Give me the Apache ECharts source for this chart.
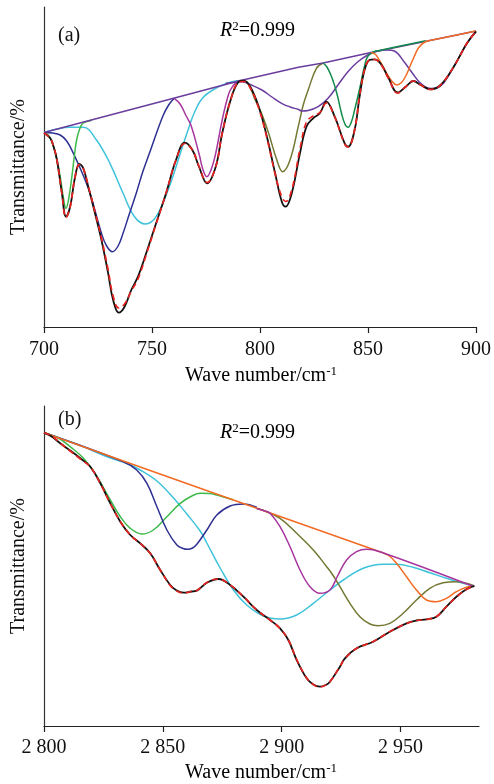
<!DOCTYPE html>
<html>
<head>
<meta charset="utf-8">
<script src="https://cdn.jsdelivr.net/npm/echarts@6/dist/echarts.min.js"></script>
<style>html,body{margin:0;padding:0;background:#fff;}#c{width:494px;height:784px;}</style>
</head>
<body>
<div id="c"></div>
<script>
// ---------- Panel (a): 700–900 cm-1 ----------
const tickValuesA = [700, 750, 800, 850, 900];
const tickLabelsA = ['700', '750', '800', '850', '900'];
const baselineA = [[700,194.5],[760,228.7],[791,246.5],[817.8,259.7],[829.2,264],[851.4,274.5],[882,288],[900,296]];
const greenA = [[700,194.5],[702.5,190.5],[704.4,180.3],[706,167],[707.5,150.3],[709,129],[710.2,118.7],[711.4,128],[712.9,150.3],[714,170],[715.1,187],[716.5,198],[718.2,204],[722,206.5]];
const blueA = [[700,194.5],[704,194],[707.5,192],[710.5,186],[713.6,173.7],[717.5,155],[721.3,133.7],[726.6,93.7],[729,81],[731.7,75.3],[734.3,81],[736.6,93.7],[739.5,113],[742.7,133.7],[745.7,155],[748.8,173.7],[754.9,210.3],[757.7,222],[760.3,228.7]];
const cyanA = [[700,194.5],[706,198],[712,199.7],[718.2,199.7],[724.3,187],[730.5,163.7],[736.6,133.7],[741.9,110.3],[747,103],[751.9,110.3],[758,140.3],[764.1,180.3],[767,199],[769.5,213.7],[773.3,228.7],[779.5,238.7],[787,245.3],[791,246.5]];
const magentaA = [[760.3,228.7],[763,223],[765.7,211.5],[768,202],[771.8,173],[773.5,158],[775.4,150.3],[777.3,157],[779.5,173.7],[782.5,207],[785.6,233.7],[787.5,241],[789.4,245.3],[791,246.5]];
const oliveA = [[791,246.5],[794.5,243],[797.8,227],[801,212],[804,193.7],[807.8,167],[810.5,155.3],[813.9,167],[817.7,200.3],[820,222],[822.3,237],[826.1,258.7],[829.2,264]];
const purpleA = [[784,243.5],[791.7,245.3],[796,242],[800.9,237],[805.5,230],[810,223.7],[814,220],[817.8,217.5],[819.5,216],[822.3,216.5],[826.9,220.3],[831.5,228.7],[836.1,242],[840.7,255.3],[845.3,265.3],[849.9,272],[854.5,276],[859.1,277],[862.2,276],[866.7,265.3],[870.6,253.7],[874.4,243.7],[879,238.5],[882,239.3],[885,244],[889.7,260.3],[895.8,283.7],[900,296]];
const darkGreenA = [[829.2,264],[831,260],[833,251],[834.6,241],[836,230],[837.7,214],[839.3,203],[840.8,199.7],[842.3,205],[843.8,217],[846.1,238],[848.4,261],[850,271],[853,275.5],[855.3,276.5],[866,281.5],[876.7,286.3]];
const orangeA = [[851.4,274.5],[853.5,272.5],[855.3,266.5],[857.3,259],[859.1,252],[861,246],[863.3,242],[865.5,244.5],[867.5,251],[869.5,261],[871.5,271],[873.5,279.5],[876,284.5],[879,286.7],[882,288],[900,296]];
const measuredA = [[700,194],[702.9,188.7],[704.5,180],[706,167],[708.3,133.7],[710.2,110.3],[712.1,120.3],[714.4,150.3],[716.4,163],[718.2,158.7],[720.5,140.3],[723.6,113.7],[726.6,87],[729.7,53.7],[732,27],[734.6,14.3],[737.3,20.3],[740.4,37],[743.5,50.3],[747.3,73.7],[751.9,103.7],[756.5,133.7],[761.1,167],[765.2,184.3],[768.7,177],[771.8,160],[775.5,143.7],[779.5,160.3],[782.5,193.7],[786.4,227],[790.2,245.3],[792.5,246.3],[795.5,240.3],[799.4,220.3],[803.2,190.3],[807,153.7],[810.1,125.3],[811.9,120.3],[814.7,133.7],[818.5,173.7],[821.5,200.3],[824.6,208.7],[827.7,213.7],[830.7,225.3],[834.6,210.3],[839.2,183.7],[840.8,180.3],[843.8,197],[846.1,230.3],[848.4,257],[850.7,267],[853,267.7],[856,263],[859.5,249],[863.7,234.5],[867.5,240.3],[871,246],[874.4,242],[879,237.7],[883.6,242],[889.7,260.3],[895.8,283.7],[900,295.3]];
const fitA = [[700,194],[702.9,188.7],[704.5,180],[706,167],[708.3,133],[710.2,109.5],[712.1,120],[714.4,150.3],[716.4,162.5],[718.2,158.5],[720.5,141],[723.6,115],[726.6,89],[729.7,57],[732,31],[734.6,19],[737.3,23],[740.4,36],[743.5,48],[747.3,72],[751.9,103],[756.5,133.7],[761.1,167],[765.2,183.5],[768.7,177],[771.8,160.5],[775.5,144.5],[779.5,160.3],[782.5,193.7],[786.4,227],[790.2,245],[792.5,245.5],[795.5,239],[799.4,219],[803.2,189],[807,153],[810.1,130],[811.9,125.5],[814.7,137],[818.5,178],[821.5,205],[824.6,211],[827.7,214.5],[830.7,224],[834.6,210],[839.2,183],[840.8,180],[843.8,197.5],[846.1,231],[848.4,257.5],[850.7,267],[853,267.5],[856,262.5],[859.5,248.5],[863.7,234],[867.5,240.5],[871,246],[874.4,242],[879,237.5],[883.6,242],[889.7,260.3],[895.8,283.7],[900,295.5]];

// ---------- Panel (b): 2800–2983 cm-1 ----------
const tickValuesB = [2800, 2850, 2900, 2950];
const tickLabelsB = ['2 800', '2 850', '2 900', '2 950'];
const orangeB = [[2800,293.3],[2865.7,237.7],[2941.3,174.3],[2945,170.5],[2948.3,162.7],[2952.5,149.3],[2956.7,136],[2960.9,126],[2965.1,124.3],[2969.3,127.7],[2973.5,134.3],[2977.7,138.7],[2981,140]];
const magentaB = [[2889.5,217.5],[2893,215],[2895.1,212.7],[2899.3,199.3],[2903.5,179.3],[2907.7,156],[2911.9,139.3],[2916.1,132.7],[2920.3,136],[2923.5,150],[2927.3,166],[2931.5,174.3],[2935.7,176.7],[2941.3,174.3],[2981,139.3]];
const oliveB = [[2889.5,217.5],[2892.3,215.5],[2899.3,207.7],[2906.3,192.7],[2913.3,176],[2918.9,159.3],[2921.5,151],[2924.5,139.3],[2928.7,122.7],[2932.9,109.3],[2937.1,102],[2940.6,100.3],[2945.5,102.7],[2951.1,112.7],[2956.7,126],[2962.3,137.7],[2967.9,143.3],[2973.5,144.3],[2977.7,142.7],[2981,140]];
const cyanB = [[2800,293.3],[2815.3,280.5],[2826.5,269.3],[2834.9,262.5],[2840.5,256],[2847.5,245],[2854.5,228],[2860.1,212],[2865.7,195],[2868.5,183],[2874.1,158],[2879.7,136],[2885.3,121],[2892.3,110],[2899.3,107],[2906.3,111],[2913.3,122.7],[2920.3,136],[2925.9,146],[2934.3,157.7],[2942.7,161.7],[2948.3,161.7],[2955.3,158.7],[2962.3,153.3],[2969.3,147.7],[2976.3,142.7],[2981,140.3]];
const blueB = [[2800,293.3],[2833.4,264.3],[2839,256],[2843.3,242.7],[2847.5,219.3],[2851.7,196],[2855.9,181],[2858.5,177.5],[2860.5,176.7],[2862.5,178],[2864.3,181.7],[2868.5,196],[2872.7,211],[2878.3,220],[2883.9,222],[2889.5,218.7]];
const greenB = [[2800,293.3],[2806,288],[2811,279.3],[2816.6,267.7],[2822.3,249.3],[2827.9,226],[2832.1,209.3],[2836.3,197.7],[2841.2,192],[2846,196],[2851.7,209.3],[2857.3,222.7],[2862.2,230],[2865.7,232.7],[2869.5,232.5],[2872.7,231],[2879.7,226]];
const measuredB = [[2800,293.3],[2803.5,289],[2806.8,282.7],[2811,275.5],[2815.3,267.7],[2819.5,259.3],[2823.7,242.7],[2827.9,222.7],[2832.1,204.3],[2836.3,191],[2840.5,182.7],[2844.7,172.7],[2848.9,156],[2853.1,141],[2855.5,136],[2858.7,133.3],[2862,134.5],[2864.3,135.3],[2868.5,143.3],[2873.4,147],[2878.3,141],[2883.9,129.3],[2889.5,116],[2895.1,106],[2899.3,97.7],[2902.8,86],[2906.3,66],[2910.5,47.7],[2913.3,41.5],[2916.1,39.3],[2918.5,41],[2920.3,44.3],[2924.5,59.3],[2926.6,67.7],[2931.5,77.7],[2938.5,84.3],[2945.5,94.3],[2952.5,102.7],[2956.7,105.5],[2960.9,106.7],[2965.1,109.3],[2969.3,119.3],[2973.5,129.3],[2977.7,136.7],[2981,140]];
const fitB = [[2800,293.3],[2803.5,289.5],[2806.8,283],[2811,275],[2815.3,267],[2819.5,259],[2823.7,242.5],[2827.9,222.5],[2832.1,204.5],[2836.3,191],[2840.5,182.5],[2844.7,172.5],[2848.9,156],[2853.1,140.5],[2855.5,135.5],[2858.7,133],[2862,134.5],[2864.3,135.5],[2868.5,143.5],[2873.4,147],[2878.3,141],[2883.9,129.5],[2889.5,116],[2895.1,106],[2899.3,97.5],[2902.8,86],[2906.3,66.5],[2910.5,48],[2913.3,41.5],[2916.1,39],[2918.5,41],[2920.3,44.5],[2924.5,59.5],[2926.6,67.5],[2931.5,77.5],[2938.5,84.5],[2945.5,94.5],[2952.5,102.5],[2956.7,105.5],[2960.9,106.5],[2965.1,109.5],[2969.3,119.5],[2973.5,129],[2977.7,136.5],[2981,140]];

const SERIF = "'Liberation Serif', 'Times New Roman', serif";
const C = {
  black: '#111111', red: '#e8231f', purple: '#6a3d9e', green: '#3db94a', blue: '#2e3192',
  cyan: '#3ec3da', magenta: '#a6369e', olive: '#737832', darkGreen: '#128c4b', orange: '#f26b22'
};

function line(data, color, gi, extra) {
  return Object.assign({
    type: 'line', data: data, xAxisIndex: gi, yAxisIndex: gi,
    showSymbol: false, symbol: 'none', smooth: 0.4, silent: true, animation: false,
    lineStyle: { color: color, width: 1.5 }
  }, extra || {});
}

function xAxisCfg(gi, min, max, ticks, labels, margin) {
  return {
    gridIndex: gi, type: 'value', min: min, max: max, interval: 50,
    axisLine: { onZero: false, lineStyle: { color: '#222', width: 1.2 } },
    axisTick: { show: true, inside: false, length: 6, customValues: ticks, lineStyle: { color: '#222', width: 1.2 } },
    axisLabel: {
      customValues: ticks, margin: margin, color: '#111', fontSize: 20, fontFamily: SERIF,
      formatter: function (v) { const i = ticks.indexOf(v); return i >= 0 ? labels[i] : ''; }
    },
    splitLine: { show: false }
  };
}
function yAxisCfg(gi) {
  return {
    gridIndex: gi, type: 'value', min: 0, max: 320,
    axisLine: { show: true, onZero: false, lineStyle: { color: '#333', width: 1.2 } },
    axisTick: { show: false }, axisLabel: { show: false }, splitLine: { show: false }
  };
}

const txt = (x, y, text) => ({
  type: 'text', x: x, y: y, silent: true,
  style: { text: text, font: '20px ' + SERIF, fill: '#111', align: 'left', verticalAlign: 'middle' }
});

const richR = {
  i: { fontStyle: 'italic', fontSize: 20, fontFamily: SERIF, color: '#111', lineHeight: 22 },
  s: { fontSize: 13, fontFamily: SERIF, color: '#111', verticalAlign: 'top', lineHeight: 14 },
  n: { fontSize: 20, fontFamily: SERIF, color: '#111', lineHeight: 22 }
};

const chart = echarts.init(document.getElementById('c'), null, { renderer: 'canvas' });
chart.setOption({
  backgroundColor: '#ffffff',
  animation: false,
  grid: [
    { left: 44, right: 15, top: 7, height: 320 },
    { left: 44, right: 15, top: 406, height: 320 }
  ],
  xAxis: [xAxisCfg(0, 700, 900, tickValuesA, tickLabelsA, 13), xAxisCfg(1, 2800, 2983, tickValuesB, tickLabelsB, 12)],
  yAxis: [yAxisCfg(0), yAxisCfg(1)],
  series: [
    line(cyanA, C.cyan, 0), line(blueA, C.blue, 0), line(greenA, C.green, 0),
    line(magentaA, C.magenta, 0), line(oliveA, C.olive, 0), line(purpleA, C.purple, 0),
    line(baselineA, C.purple, 0, { smooth: false }),
    line(darkGreenA, C.darkGreen, 0), line(orangeA, C.orange, 0),
    line(measuredA, C.black, 0, { lineStyle: { color: C.black, width: 1.8 } }),
    line(fitA, C.red, 0, { lineStyle: { color: C.red, width: 1.7, type: [6, 4] } }),

    line(cyanB, C.cyan, 1), line(greenB, C.green, 1), line(blueB, C.blue, 1),
    line(oliveB, C.olive, 1), line(orangeB, C.orange, 1), line(magentaB, C.magenta, 1),
    line(measuredB, C.black, 1, { lineStyle: { color: C.black, width: 1.8 } }),
    line(fitB, C.red, 1, { lineStyle: { color: C.red, width: 1.7, type: [6, 4] } })
  ],
  graphic: [
    txt(58, 36, '(a)'),
    txt(58, 420, '(b)'),
    { type: 'text', x: 220, y: 31, silent: true, style: { text: '{i|R}{s|2}{n|=0.999}', rich: richR, verticalAlign: 'middle', align: 'left' } },
    { type: 'text', x: 220, y: 433, silent: true, style: { text: '{i|R}{s|2}{n|=0.999}', rich: richR, verticalAlign: 'middle', align: 'left' } },
    { type: 'text', x: 261, y: 376, silent: true, style: { text: '{n|Wave number/cm}{s|-1}', rich: richR, verticalAlign: 'middle', align: 'center' } },
    { type: 'text', x: 261, y: 773, silent: true, style: { text: '{n|Wave number/cm}{s|-1}', rich: richR, verticalAlign: 'middle', align: 'center' } },
    { type: 'text', x: 19, y: 167, rotation: Math.PI / 2, silent: true, style: { text: 'Transmittance/%', font: '20px ' + SERIF, fill: '#111', align: 'center', verticalAlign: 'middle' } },
    { type: 'text', x: 19, y: 566, rotation: Math.PI / 2, silent: true, style: { text: 'Transmittance/%', font: '20px ' + SERIF, fill: '#111', align: 'center', verticalAlign: 'middle' } }
  ]
});
</script>
</body>
</html>
